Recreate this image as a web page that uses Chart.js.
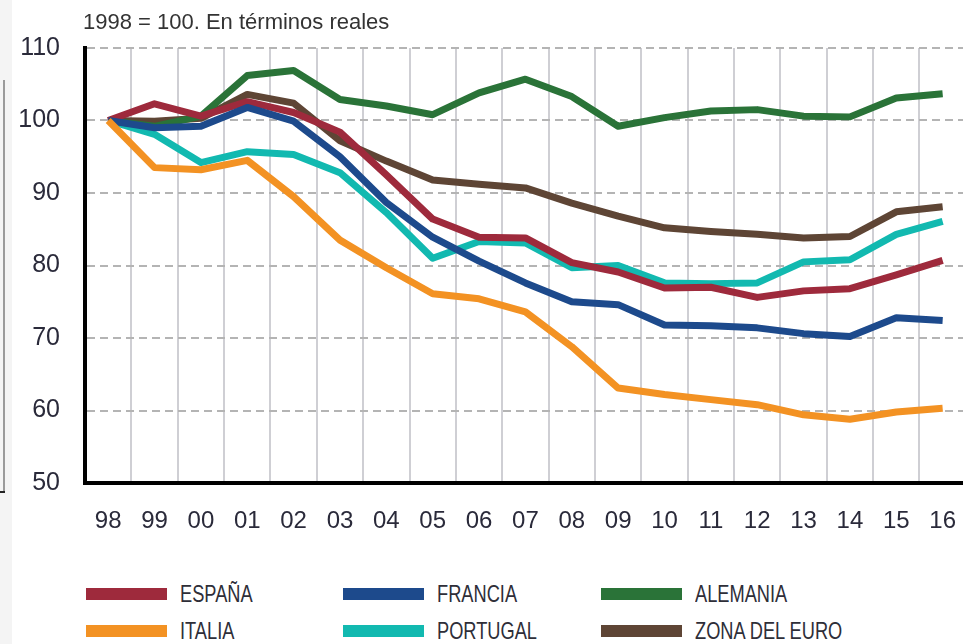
<!DOCTYPE html>
<html>
<head>
<meta charset="utf-8">
<script src="https://cdn.jsdelivr.net/npm/chart.js@4"></script>
<style>
    body { margin: 0; background: #fff; }
    #wrap { position: relative; width: 963px; height: 644px; overflow: hidden; font-family: "Liberation Sans", Arial, sans-serif; }
    #franja { position: absolute; left: 0; top: 0; width: 12px; height: 644px; background: #f4f4f4; }
    #marco { position: absolute; left: 3px; top: 80px; width: 2px; height: 413px; background: #9a9a9a; }
    #marco2 { position: absolute; left: 0px; top: 491px; width: 5px; height: 2px; background: #222; }
    #titulo { position: absolute; left: 83px; top: 9px; font-size: 22px; color: #333; }
    #grafico { position: absolute; left: 0; top: 0; }
    .ley { position: absolute; height: 24px; }
    .ley span.raya { position: absolute; left: 0; top: 6px; width: 81px; height: 12px; }
    .ley span.txt { position: absolute; left: 94px; top: -1px; font-size: 24px; line-height: 26px; color: #2e2e38; white-space: nowrap; transform: scaleX(0.76); transform-origin: 0 0; }
</style>
</head>
<body>
<div id="wrap">
    <div id="franja"></div>
    <div id="marco"></div>
    <div id="marco2"></div>
    <canvas id="grafico" width="980" height="560"></canvas>
    <div id="titulo">1998 = 100. En términos reales</div>
    <div id="leyenda"></div>
</div>
<script>
var anios = ['98', '99', '00', '01', '02', '03', '04', '05', '06', '07', '08', '09', '10', '11', '12', '13', '14', '15', '16'];

var espana = [100, 102.3, 100.6, 102.6, 101.1, 98.4, 92.5, 86.4, 83.9, 83.8, 80.4, 79.1, 76.9, 77, 75.6, 76.5, 76.8, 78.7, 80.7];
var francia = [100, 99, 99.2, 101.8, 99.9, 95, 88.7, 83.9, 80.6, 77.6, 75, 74.6, 71.8, 71.7, 71.4, 70.6, 70.2, 72.8, 72.4];
var alemania = [100, 99.2, 100.6, 106.2, 106.9, 102.9, 102, 100.8, 103.8, 105.7, 103.3, 99.2, 100.4, 101.3, 101.5, 100.6, 100.5, 103.1, 103.7];
var italia = [100, 93.5, 93.2, 94.5, 89.5, 83.5, 79.7, 76.1, 75.4, 73.6, 68.8, 63.1, 62.2, 61.5, 60.8, 59.4, 58.8, 59.8, 60.3];
var portugal = [100, 98.1, 94.2, 95.7, 95.3, 92.8, 87.3, 81, 83.3, 83.1, 79.7, 80, 77.6, 77.5, 77.6, 80.5, 80.8, 84.3, 86.1];
var zona_euro = [100, 99.9, 100.3, 103.6, 102.4, 97.2, 94.4, 91.8, 91.2, 90.7, 88.6, 86.8, 85.2, 84.7, 84.3, 83.8, 84, 87.4, 88.1];

var ticks_y = [50, 60, 70, 80, 90, 100, 110];

var colores = {
    espana: '#9e2a3c',
    francia: '#1d4a8c',
    alemania: '#2a7338',
    italia: '#f39223',
    portugal: '#12b9b0',
    zona: '#5e4535'
};

function serie(nombre, datos, color) {
    return {
        label: nombre,
        data: datos,
        borderColor: color,
        backgroundColor: color,
        borderWidth: 7,
        pointRadius: 0,
        tension: 0,
        borderJoinStyle: 'round',
        fill: false
    };
}

// el orden del array es el orden de dibujo (el ultimo queda encima)
var series = [
    serie('ITALIA', italia, colores.italia),
    serie('FRANCIA', francia, colores.francia),
    serie('ESPAÑA', espana, colores.espana),
    serie('ALEMANIA', alemania, colores.alemania),
    serie('PORTUGAL', portugal, colores.portugal),
    serie('ZONA DEL EURO', zona_euro, colores.zona)
];

new Chart(document.getElementById('grafico').getContext('2d'), {
    type: 'line',
    data: {
        labels: anios,
        datasets: series
    },
    options: {
        responsive: false,
        animation: false,
        layout: { padding: { top: 48, right: 0, left: 0, bottom: 0 } },
        plugins: {
            legend: { display: false },
            tooltip: { enabled: false }
        },
        scales: {
            x: {
                type: 'category',
                offset: true,
                grid: { offset: true, color: '#cfcfd4', lineWidth: 2, drawTicks: false },
                border: { color: '#000', width: 4 },
                ticks: {
                    font: { family: 'Liberation Sans', size: 24 },
                    color: '#2a2a3a',
                    padding: 24,
                    maxRotation: 0,
                    autoSkip: false
                },
                afterFit: function(axis) { axis.height = 77; }
            },
            y: {
                min: 50,
                max: 110,
                afterBuildTicks: function(axis) {
                    axis.ticks = ticks_y.map(function(v) { return { value: v }; });
                },
                grid: { color: '#b4b4b4', lineWidth: 2, drawTicks: false },
                border: { color: '#000', width: 4, dash: [8, 5] },
                ticks: {
                    font: { family: 'Liberation Sans', size: 25 },
                    color: '#2a2a3a',
                    padding: 25
                },
                afterFit: function(axis) { axis.width = 85; }
            }
        }
    }
});

// leyenda en tres columnas, como en el original
var orden_leyenda = [
    ['ESPAÑA', colores.espana], ['FRANCIA', colores.francia], ['ALEMANIA', colores.alemania],
    ['ITALIA', colores.italia], ['PORTUGAL', colores.portugal], ['ZONA DEL EURO', colores.zona]
];
var col_x = [86, 343, 601];
var fila_y = [582, 619];
var html = '';
for (var i = 0; i < orden_leyenda.length; i++) {
    var c = i % 3;
    var f = Math.floor(i / 3);
    html += '<div class="ley" style="left:' + col_x[c] + 'px;top:' + fila_y[f] + 'px">' +
        '<span class="raya" style="background:' + orden_leyenda[i][1] + '"></span>' +
        '<span class="txt">' + orden_leyenda[i][0] + '</span></div>';
}
document.getElementById('leyenda').innerHTML = html;
</script>
</body>
</html>
